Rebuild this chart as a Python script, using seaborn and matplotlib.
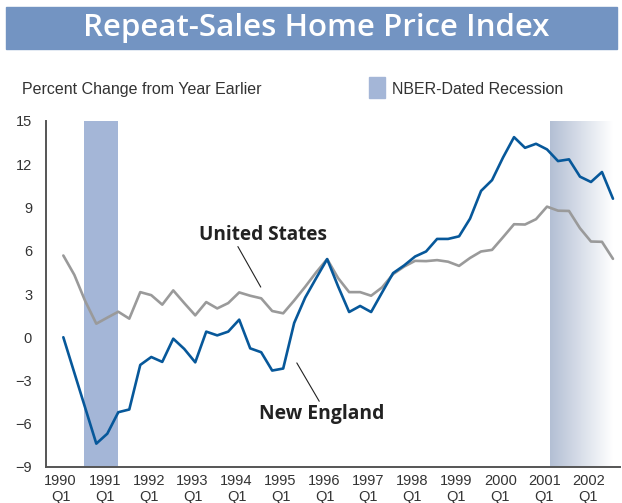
import numpy as np
import pandas as pd
import matplotlib
matplotlib.use("Agg")
import matplotlib.pyplot as plt
from matplotlib.patches import Rectangle
import seaborn as sns

# ---- data (quarterly, 1990 Q1 .. 2002 Q3), percent change from year earlier ----
quarters = [f"{y} Q{q}" for y in range(1990, 2003) for q in range(1, 5)][:51]
united_states = [5.67, 4.33, 2.49, 0.94, 1.36, 1.77, 1.29, 3.13, 2.92, 2.26,
                 3.25, 2.37, 1.52, 2.44, 2.00, 2.37, 3.11, 2.88, 2.70, 1.82,
                 1.66, 2.55, 3.50, 4.50, 5.42, 4.10, 3.13, 3.13, 2.88, 3.46,
                 4.38, 4.90, 5.30, 5.28, 5.35, 5.24, 4.95, 5.50, 5.95, 6.06,
                 6.94, 7.84, 7.82, 8.19, 9.06, 8.78, 8.76, 7.56, 6.64, 6.62,
                 5.44]
new_england = [0.00, -2.46, -4.92, -7.38, -6.69, -5.20, -5.01, -1.92, -1.37, -1.71,
               -0.10, -0.81, -1.74, 0.39, 0.13, 0.39, 1.22, -0.77, -1.04, -2.31,
               -2.17, 0.99, 2.75, 4.10, 5.42, 3.52, 1.75, 2.17, 1.75, 3.11,
               4.45, 4.98, 5.60, 5.95, 6.82, 6.82, 7.00, 8.23, 10.15, 10.90,
               12.47, 13.88, 13.14, 13.42, 13.03, 12.22, 12.34, 11.14, 10.77, 11.46,
               9.61]
recessions = [(1990.53, 1991.30), (2001.13, 2002.56)]
year_ticks = list(range(1990, 2003))
tick_labels = [f"{y}\nQ1" for y in year_ticks]
y_ticks = [-9, -6, -3, 0, 3, 6, 9, 12, 15]

# decimal-time position of each quarter (mid-quarter offset as in the source)
tpos = [int(s[:4]) + (int(s[-1]) - 1) / 4 + 0.06 for s in quarters]
df = pd.DataFrame({"t": tpos * 2,
                   "value": united_states + new_england,
                   "series": ["United States"] * 51 + ["New England"] * 51})

sns.set_theme(style="white")
plt.rcParams["font.family"] = ["Liberation Sans", "DejaVu Sans"]

W, H = 622, 503
fig = plt.figure(figsize=(W / 100, H / 100), dpi=100)
ax = fig.add_axes([46 / W, 1 - 467 / H, (620 - 46) / W, (467 - 121) / H])

# recession shading
r1, r2 = recessions
ax.axvspan(r1[0], r1[1], ymin=0, ymax=1, color="#a4b6d7", lw=0, zorder=0)
grad = np.linspace(0, 1, 256).reshape(1, -1)
cmap = matplotlib.colors.LinearSegmentedColormap.from_list("g", ["#b3bfd4", "#ffffff"])
ax.imshow(grad, extent=[r2[0], r2[1], -9, 15], aspect="auto", cmap=cmap,
          zorder=0, interpolation="bicubic")

sns.lineplot(data=df, x="t", y="value", hue="series",
             palette={"United States": "#9a9a9a", "New England": "#07589a"},
             hue_order=["United States", "New England"],
             linewidth=1.9, legend=False, ax=ax, zorder=3)

ax.set_xlim(1989.666, 2002.72)
ax.set_ylim(-9, 15)
ax.set_xticks(year_ticks)
ax.set_xticklabels(tick_labels, fontsize=10.5, color="#333333", linespacing=1.15)
ax.set_yticks(y_ticks)
ax.set_yticklabels([str(v).replace("-", "\u2212") for v in y_ticks],
                   fontsize=10.5, color="#333333")
ax.tick_params(axis="x", direction="in", length=7, width=1.2, color="#444444", pad=5)
ax.tick_params(axis="y", direction="out", length=7, width=1.2, color="#444444", pad=3)
ax.set_xlabel("")
ax.set_ylabel("")
for s in ["top", "right"]:
    ax.spines[s].set_visible(False)
for s in ["left", "bottom"]:
    ax.spines[s].set_color("#555555")
    ax.spines[s].set_linewidth(1.4)
ax.set_facecolor("none")

# series labels with leader lines
ax.text(1994.60, 7.10, "United States", fontsize=13.7, fontweight="bold",
        family=["Open Sans", "DejaVu Sans"],
        color="#222222", ha="center", va="center")
ax.plot([1994.03, 1994.55], [6.29, 3.48], color="#222222", lw=0.8)
ax.text(1995.94, -5.29, "New England", fontsize=13.9, fontweight="bold",
        family=["Open Sans", "DejaVu Sans"],
        color="#222222", ha="center", va="center")
ax.plot([1995.37, 1995.88], [-1.78, -4.44], color="#222222", lw=0.8)

# title banner
fig.patches.append(Rectangle((6 / W, 1 - 49 / H), (617 - 6) / W, (49 - 6.7) / H,
                             transform=fig.transFigure, color="#7394c2", zorder=0))
fig.text(316.5 / W, 1 - 28 / H, "Repeat-Sales Home Price Index", fontsize=22.5,
         fontweight="semibold", family=["Open Sans", "DejaVu Sans"],
         color="white", ha="center", va="center")

# header texts and legend
fig.text(22 / W, 1 - 89.5 / H, "Percent Change from Year Earlier", fontsize=11.5,
         color="#333333", ha="left", va="center")
fig.patches.append(Rectangle((369 / W, 1 - 97.5 / H), 16 / W, 21 / H,
                             transform=fig.transFigure, color="#a4b6d7", zorder=0))
fig.text(392 / W, 1 - 89 / H, "NBER-Dated Recession", fontsize=11.5,
         color="#333333", ha="left", va="center")

fig.savefig("out.png", dpi=100)
